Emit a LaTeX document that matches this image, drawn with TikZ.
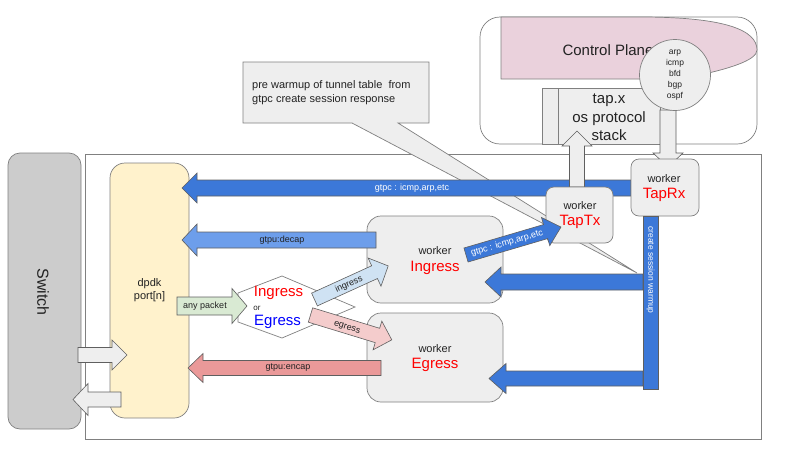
\documentclass[tikz,border=0pt]{standalone}
\usepackage{fontspec}
\setmainfont{Liberation Sans}
\definecolor{bblue}{HTML}{3C78D8}
\definecolor{lblue}{HTML}{6D9EEB}
\definecolor{pblue}{HTML}{CFE2F3}
\definecolor{ppink}{HTML}{F4CCCC}
\definecolor{rpink}{HTML}{EA9999}
\definecolor{pgreen}{HTML}{D9EAD3}
\definecolor{boxg}{HTML}{EEEEEE}
\definecolor{edge}{HTML}{808080}
\definecolor{aedge}{HTML}{5F5F5F}
\definecolor{swg}{HTML}{CCCCCC}
\definecolor{dyel}{HTML}{FFF2CC}
\definecolor{cpink}{HTML}{EAD1DC}
\definecolor{dtext}{HTML}{222222}
\newcommand\blkarrow[7]{%
  \begin{scope}[shift={(#2)},rotate=#3]
    \filldraw[#1] (0,-#5) -- ({#4-#7},-#5) -- ({#4-#7},-#6) -- (#4,0) -- ({#4-#7},#6) -- ({#4-#7},#5) -- (0,#5) -- cycle;
  \end{scope}}
\begin{document}
\begin{tikzpicture}[x=1pt,y=-1pt,
  ln/.style={draw=edge, line width=0.7pt},
  box/.style={ln, fill=boxg, rounded corners=#1, inner sep=0pt},
  box/.default=10pt,
  arrbase/.style={draw=aedge, line width=0.6pt},
  bluearr/.style={arrbase, fill=bblue},
  decaparr/.style={arrbase, fill=lblue},
  encaparr/.style={arrbase, fill=rpink},
  greenarr/.style={arrbase, fill=pgreen},
  grayarr/.style={arrbase, fill=boxg},
  inarr/.style={arrbase, fill=pblue},
  egarr/.style={arrbase, fill=ppink},
  t9/.style={font=\fontsize{9}{11}\selectfont, text=dtext, inner sep=0pt},
  t11/.style={font=\fontsize{11}{13}\selectfont, text=dtext, inner sep=0pt},
  t15/.style={font=\fontsize{15}{17}\selectfont, text=dtext, inner sep=0pt},
  red15/.style={font=\fontsize{15}{17}\selectfont, text=red, inner sep=0pt},
]
\useasboundingbox (0,0) rectangle (800,450);
% main frame
\node[ln, minimum width=676pt, minimum height=285pt, inner sep=0pt] (frame) at (423,296.5) {};
% control plane
\node[ln, fill=white, rounded corners=20pt, minimum width=277pt, minimum height=127pt, inner sep=0pt] (cp) at (618.5,80.5) {};
\filldraw[ln, fill=cpink] (501,79) -- (501,17) -- (640,17) .. controls (725,17) and (757,30) .. (757,50) .. controls (757,60) and (730,69) .. (690,77) -- (680,79) -- cycle;
\node[t15] (cpt) at (608,50) {Control Plane};
% tap box
\node[ln, fill=boxg, minimum width=118pt, minimum height=56pt, inner sep=0pt] (tap) at (601,116) {};
\draw[ln] (558,88) -- (558,144);
\node[t15, align=center, font=\fontsize{15}{18.5}\selectfont] (tapt) at (609,117.5) {tap.x\\os protocol\\stack};
% arrow from protocols to TapRx
\blkarrow{grayarr}{668,110}{-90}{57}{8}{15}{14}
\node[ln, circle, fill=boxg, minimum size=71pt, inner sep=0pt, align=center, font=\fontsize{8.5}{11}\selectfont, text=dtext] (proto) at (675,75) {arp\\icmp\\bfd\\bgp\\ospf};
% switch
\node[ln, fill=swg, rounded corners=12pt, minimum width=73pt, minimum height=276pt, inner sep=0pt] (sw) at (44.5,291) {};
\node[rotate=-90, font=\fontsize{16}{18}\selectfont, text=dtext, inner sep=0pt] (swt) at (43,292) {Switch};
% dpdk
\node[ln, fill=dyel, rounded corners=15pt, minimum width=79pt, minimum height=255pt, inner sep=0pt, align=center, font=\fontsize{11}{13}\selectfont, text=dtext] (dpdk) at (149.5,290.5) {dpdk\\port[n]};
% callout
\filldraw[ln, fill=boxg] (243,62) -- (429,62) -- (429,123) -- (398,123) -- (637,273) -- (352,123) -- (243,123) -- cycle;
\node[t11, align=left, anchor=west, font=\fontsize{11}{14}\selectfont] (callt) at (252,93) {pre warmup of tunnel table~ from\\gtpc create session response};
% top gtpc arrow
\blkarrow{bluearr}{631,188}{180}{449}{8}{15}{15}
\node[t9, text=white] (gtpct) at (412,188) {gtpc : icmp,arp,etc};
% up arrow TapTx -> tap
\blkarrow{grayarr}{577,187}{90}{56}{7.5}{15}{15}
% TapTx / TapRx
\node[box=8pt, minimum width=67pt, minimum height=56pt] (taptx) at (579.5,215) {};
\node[t11] (taptxw) at (580,206) {worker};
\node[red15] (taptxn) at (580,222) {TapTx};
\node[box=8pt, minimum width=68pt, minimum height=57pt] (taprx) at (665,187.5) {};
\node[t11] (taprxw) at (664,179) {worker};
\node[red15] (taprxn) at (664,195) {TapRx};
% vertical bar
\node[draw=aedge, line width=0.6pt, fill=bblue, minimum width=15pt, minimum height=173pt, inner sep=0pt] (bar) at (650.5,302.5) {};
\node[rotate=-90, font=\fontsize{8.5}{10}\selectfont, text=white, inner sep=0pt] (bart) at (650.5,270) {create session warmup};
% workers
\node[box=14pt, minimum width=136pt, minimum height=87pt] (wing) at (435,259.5) {};
\node[t11] (wingw) at (435,251) {worker};
\node[red15] (wingn) at (435,268) {Ingress};
\node[box=14pt, minimum width=136pt, minimum height=89pt] (wegr) at (435,357.5) {};
\node[t11] (wegrw) at (435,349) {worker};
\node[red15] (wegrn) at (435,365) {Egress};
% decision shape
\filldraw[ln, fill=white] (238,293) -- (282,276) -- (355,307) -- (282,338) -- (238,322) -- cycle;
\node[red15] (dIn) at (278.5,293) {Ingress};
\node[font=\fontsize{8}{10}\selectfont, text=dtext, inner sep=0pt] (dor) at (257,308) {or};
\node[font=\fontsize{15}{17}\selectfont, text=blue, inner sep=0pt] (dEg) at (277.5,322) {Egress};
% arrows to dpdk
\blkarrow{decaparr}{376,240}{180}{194}{8}{16}{15}
\node[t9] (decapt) at (282,240) {gtpu:decap};
\blkarrow{encaparr}{381,368}{180}{193}{7.5}{14.5}{15}
\node[t9] (encapt) at (288,368) {gtpu:encap};
% any packet
\blkarrow{greenarr}{177,306}{0}{70}{9}{17.5}{15}
\node[t9] (anyt) at (205,306) {any packet};
% switch arrows
\blkarrow{grayarr}{78,355}{0}{49}{7.5}{15}{15}
\blkarrow{grayarr}{121,399.5}{180}{48}{7.5}{16}{15}
% ingress / egress
\blkarrow{inarr}{314.5,299.5}{24.5}{81}{7}{15.5}{15}
\node[t9, rotate=24.5] (ingt) at (349,284.5) {ingress};
\blkarrow{egarr}{310.5,315}{-17}{85}{7.5}{15}{15}
\node[t9, rotate=-17] (egt) at (347,328) {egress};
% gtpc from ingress to TapTx
\blkarrow{bluearr}{466,255}{16.4}{99}{7.3}{14.7}{16}
\node[t9, text=white, rotate=16.4] (gtpc2) at (507,243) {gtpc : icmp,arp,etc};
% warmup arrows
\blkarrow{bluearr}{643,282}{180}{158}{8}{15}{16}
\blkarrow{bluearr}{643,378.5}{180}{154}{7.5}{15}{17}
\end{tikzpicture}
\end{document}
